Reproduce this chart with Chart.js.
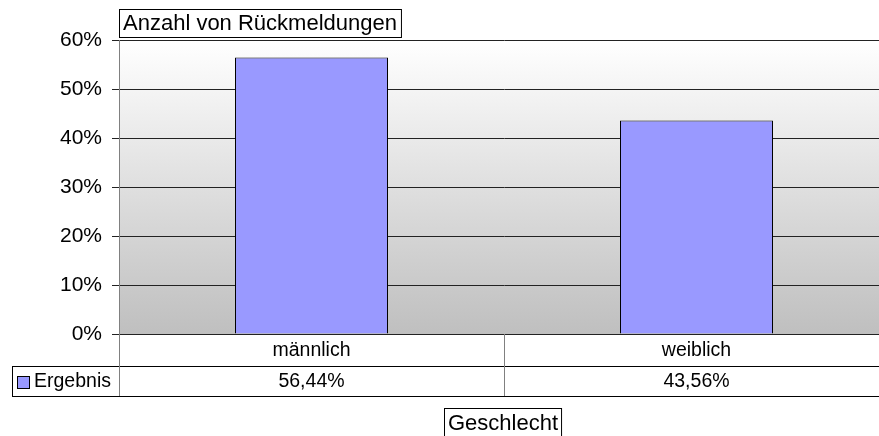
<!DOCTYPE html>
<html>
<head>
<meta charset="utf-8">
<script src="https://cdn.jsdelivr.net/npm/chart.js@4"></script>
<style>
  html, body { margin: 0; padding: 0; background: #fff; overflow: hidden; }
  #wrap { width: 879px; height: 436px; overflow: hidden; }
</style>
</head>
<body>
<div id="wrap"><canvas id="chart" width="900" height="436"></canvas></div>
<script>
const categories = ["männlich", "weiblich"];
const seriesName = "Ergebnis";
const values = [0.5644, 0.4356];
const chartTitle = "Anzahl von Rückmeldungen";
const axisTitle = "Geschlecht";

const FONT = "Liberation Sans, Arial, sans-serif";

function pct(v) {
  return (v * 100).toFixed(2).replace(".", ",") + "%";
}

// background gradient, data table and boxed labels
const decorPlugin = {
  id: "decor",
  beforeDraw(chart) {
    const { ctx, chartArea: a } = chart;
    const g = ctx.createLinearGradient(0, a.top, 0, a.bottom);
    g.addColorStop(0, "#ffffff");
    g.addColorStop(1, "#bfbfbf");
    ctx.save();
    ctx.fillStyle = g;
    ctx.fillRect(a.left, a.top, a.right - a.left, a.bottom - a.top);
    ctx.restore();
  },
  afterDraw(chart) {
    const { ctx, chartArea: a } = chart;
    const x = chart.scales.x;
    const row1 = a.bottom + 32;
    const row2 = row1 + 30;
    ctx.save();
    ctx.lineWidth = 1;

    // table lines
    ctx.strokeStyle = "#000";
    ctx.beginPath();
    ctx.moveTo(12, row1 + 0.5); ctx.lineTo(chart.width, row1 + 0.5);
    ctx.moveTo(12, row2 + 0.5); ctx.lineTo(chart.width, row2 + 0.5);
    ctx.moveTo(12.5, row1); ctx.lineTo(12.5, row2);
    ctx.stroke();

    ctx.strokeStyle = "#808080";
    ctx.beginPath();
    ctx.moveTo(a.left + 0.5, a.bottom); ctx.lineTo(a.left + 0.5, row2);
    for (let i = 1; i < categories.length; i++) {
      const bx = Math.round((x.getPixelForValue(i - 1) + x.getPixelForValue(i)) / 2) + 0.5;
      ctx.moveTo(bx, a.bottom); ctx.lineTo(bx, row2);
    }
    ctx.stroke();

    // table text
    ctx.fillStyle = "#000";
    ctx.font = "19.5px " + FONT;
    ctx.textAlign = "center";
    ctx.textBaseline = "middle";
    categories.forEach((c, i) => {
      const cx = x.getPixelForValue(i);
      ctx.fillText(c, cx, (a.bottom + row1) / 2 + 1);
      ctx.fillText(pct(values[i]), cx, (row1 + row2) / 2 + 1);
    });

    // legend key
    ctx.fillStyle = "#9999ff";
    ctx.fillRect(17, row1 + 10, 12, 12);
    ctx.strokeStyle = "#000";
    ctx.strokeRect(17.5, row1 + 10.5, 12, 12);
    ctx.fillStyle = "#000";
    ctx.textAlign = "left";
    ctx.fillText(seriesName, 34, (row1 + row2) / 2 + 1);

    // boxed chart title
    ctx.font = "22px " + FONT;
    const tw = ctx.measureText(chartTitle).width;
    ctx.fillStyle = "#fff";
    ctx.fillRect(a.left, 9, tw + 8, 29);
    ctx.strokeStyle = "#000";
    ctx.strokeRect(a.left + 0.5, 9.5, tw + 8, 28);
    ctx.fillStyle = "#000";
    ctx.fillText(chartTitle, a.left + 4, 24);

    // boxed axis title
    const aw = ctx.measureText(axisTitle).width;
    const ax = 444;
    ctx.strokeRect(ax + 0.5, 408.5, aw + 7, 29);
    ctx.fillText(axisTitle, ax + 4, 424);
    ctx.restore();
  },
};

new Chart(document.getElementById("chart"), {
  type: "bar",
  data: {
    labels: categories,
    datasets: [
      {
        label: seriesName,
        data: values,
        backgroundColor: "#9999ff",
        borderColor: "#000",
        borderWidth: 1,
        inflateAmount: 0,
        barThickness: 153,
      },
    ],
  },
  options: {
    responsive: false,
    animation: false,
    events: [],
    layout: { padding: { left: 0, top: 40, right: 11, bottom: 102 } },
    plugins: {
      legend: { display: false },
      tooltip: { enabled: false },
    },
    scales: {
      x: { display: false },
      y: {
        min: 0,
        max: 0.6,
        afterFit(scale) {
          scale.width = 119;
        },
        ticks: {
          stepSize: 0.1,
          padding: 10,
          color: "#000",
          font: { family: FONT, size: 21 },
          callback: (v) => Math.round(v * 100) + "%",
        },
        grid: {
          color: "#222",
          tickColor: "#222",
          tickLength: 7,
        },
        border: { color: "#808080" },
      },
    },
  },
  plugins: [decorPlugin],
});
</script>
</body>
</html>
